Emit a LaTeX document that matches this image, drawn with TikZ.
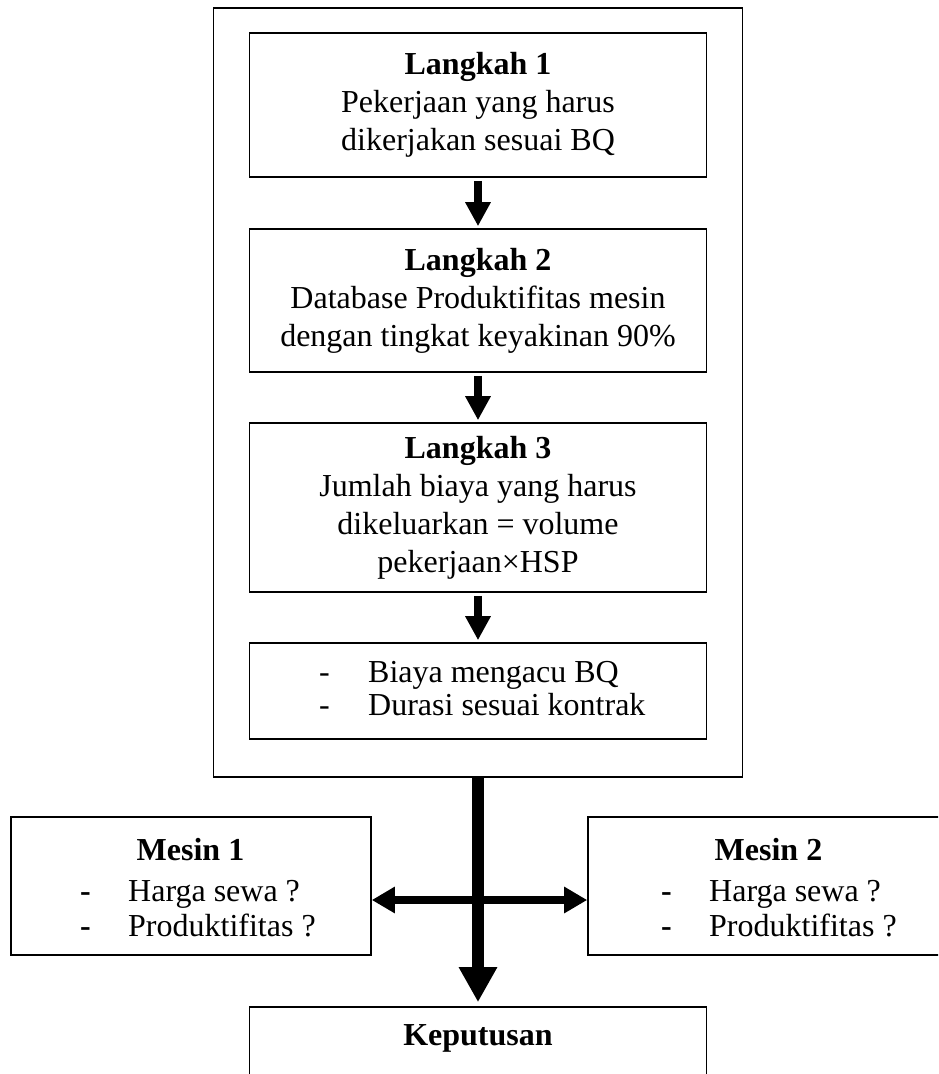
\documentclass[tikz,border=0pt]{standalone}
\usepackage{fontspec}
\setmainfont{Liberation Serif}
\usetikzlibrary{arrows.meta}
\begin{document}
\begin{tikzpicture}[x=1pt,y=-1pt,
  box/.style={draw, line width=1.6pt, minimum width=457pt, inner sep=0pt, align=center,
    font=\fontsize{32}{38}\selectfont},
  txt/.style={inner sep=0pt, font=\fontsize{32}{38}\selectfont},
  sarrow/.style={line width=7.5pt, -{Triangle[length=24pt,width=24pt]}, shorten <=3pt, shorten >=2pt}]
\useasboundingbox (0,0) rectangle (938,1074);
\clip (0,0) rectangle (938,1074);
\fill[white] (0,0) rectangle (938,1074);
% outer frame
\node[draw, line width=1.3pt, minimum width=529pt, minimum height=769pt, inner sep=0pt] (outer) at (478,392.5) {};
% steps
\node[box, minimum height=144pt] (l1) at (478,105) {\textbf{Langkah 1}\\Pekerjaan yang harus\\dikerjakan sesuai BQ};
\node[box, minimum height=143pt] (l2) at (478,300.5) {\textbf{Langkah 2}\\Database Produktifitas mesin\\dengan tingkat keyakinan 90\%};
\node[box, minimum height=169pt] (l3) at (478,507.5) {\textbf{Langkah 3}\\Jumlah biaya yang harus\\dikeluarkan = volume\\pekerjaan×HSP};
\node[box, minimum height=96pt] (l4) at (478,691) {};
\node[txt, anchor=west, align=left, font=\fontsize{32}{33}\selectfont] (l4t) at (319,689)
  {\makebox[49pt][l]{-}Biaya mengacu BQ\\\makebox[49pt][l]{-}Durasi sesuai kontrak};
% machines
\node[box, minimum width=360pt, minimum height=138pt] (m1) at (191,886) {};
\node[txt] (m1h) at (190.5,850) {\textbf{Mesin 1}};
\node[txt, anchor=west, align=left, font=\fontsize{32}{35}\selectfont] (m1t) at (80,909)
  {\makebox[48pt][l]{\textbf{-}}Harga sewa ?\\\makebox[48pt][l]{\textbf{-}}Produktifitas ?};
\node[box, minimum width=360pt, minimum height=138pt] (m2) at (768,886) {};
\node[txt] (m2h) at (768.5,850) {\textbf{Mesin 2}};
\node[txt, anchor=west, align=left, font=\fontsize{32}{35}\selectfont] (m2t) at (661,909)
  {\makebox[48pt][l]{\textbf{-}}Harga sewa ?\\\makebox[48pt][l]{\textbf{-}}Produktifitas ?};
% decision
\node[box, minimum height=140pt] (kep) at (478,1077) {};
\node[txt] (kept) at (478,1038) {\textbf{Keputusan}};
% arrows
\draw[sarrow] (l1) -- (l2);
\draw[sarrow] (l2) -- (l3);
\draw[sarrow] (l3) -- (l4);
\draw[line width=8.5pt, {Triangle[length=23pt,width=25pt]}-{Triangle[length=23pt,width=25pt]}]
  ([yshift=-14pt]m1.east) -- ([yshift=-14pt]m2.west);
\draw[line width=12pt, -{Triangle[length=35pt,width=36pt]}, shorten >=4pt] (outer.south) -- (kep.north);
\end{tikzpicture}
\end{document}
